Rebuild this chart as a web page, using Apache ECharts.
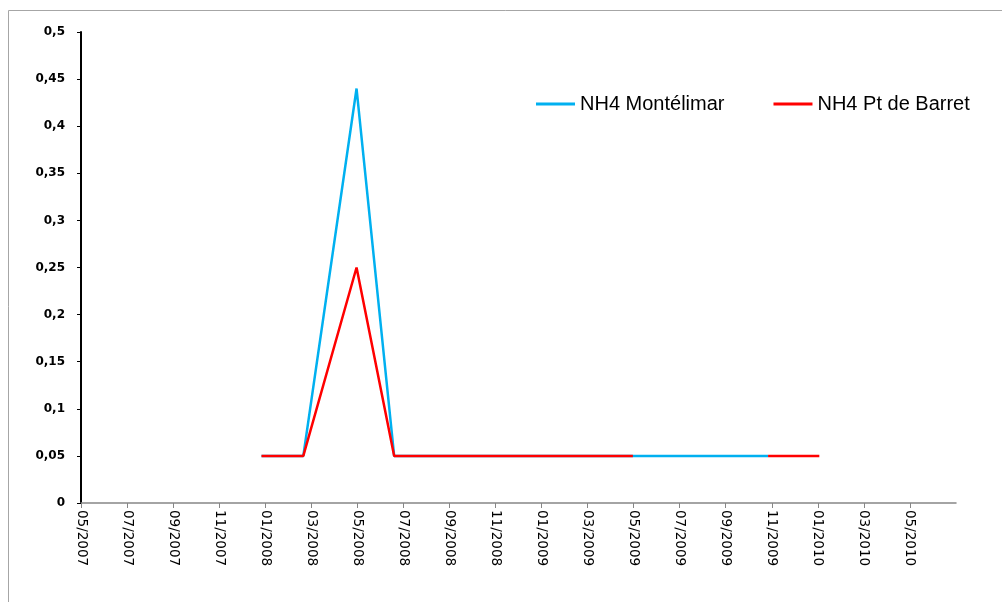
<!DOCTYPE html>
<html>
<head>
<meta charset="utf-8">
<script src="https://cdn.jsdelivr.net/npm/echarts@6/dist/echarts.min.js"></script>
<style>
    html, body {margin: 0; padding: 0; background: #fff;}
    #chart {width: 1002px; height: 602px;}
</style>
</head>
<body>
<div id="chart"></div>
<script>
// series names
const seriesNames = ['NH4 Montélimar', 'NH4 Pt de Barret'];

// NH4 Montélimar
const blueDates = ['2007-12-27', '2008-02-20', '2008-04-30', '2008-06-19', '2009-10-27'];
const blueValues = [0.05, 0.05, 0.44, 0.05, 0.05];

// NH4 Pt de Barret, '-' = no measure
const redDates = ['2007-12-27', '2008-02-20', '2008-04-30', '2008-06-19', '2009-04-30', '2009-07-15', '2009-10-27', '2010-01-03'];
const redValues = [0.05, 0.05, 0.25, 0.05, 0.05, '-', 0.05, 0.05];

// axis: month count starting 05/2007, tick every 2 months
const axisStart = {year: 2007, month: 5};
const xMin = 0;
const xMax = 38;
const xStep = 2;
const yMin = 0;
const yMax = 0.5;
const yStep = 0.05;

// date string -> months since axisStart
const toMonthIndex = s => {
    const [y, m, d] = s.split('-').map(Number);
    const daysInMonth = new Date(y, m, 0).getDate();
    return (y - axisStart.year) * 12 + (m - axisStart.month) + (d - 1) / daysInMonth;
};

// month index -> 'MM/YYYY'
const monthLabel = v => {
    const idx = axisStart.month - 1 + Math.round(v);
    const month = idx % 12 + 1;
    const year = axisStart.year + Math.floor(idx / 12);
    return (month < 10 ? '0' : '') + month + '/' + year;
};

const toPairs = (dates, values) => dates.map((d, i) => [toMonthIndex(d), values[i]]);

const chart = echarts.init(document.getElementById('chart'));
const option = {
    animation: false,
    backgroundColor: '#fff',
    graphic: [{
        type: 'rect',
        shape: {x: 8.5, y: 10.5, width: 1010, height: 610},
        style: {fill: 'none', stroke: '#a6a6a6', lineWidth: 1},
        silent: true,
    }],
    grid: {left: 81, right: 46, top: 32, bottom: 99},
    legend: {
        left: 536,
        top: 94,
        padding: 0,
        icon: 'rect',
        itemWidth: 39,
        itemHeight: 3,
        itemGap: 49,
        textStyle: {fontFamily: 'Liberation Sans', fontSize: 20, color: '#000'},
        data: seriesNames,
    },
    xAxis: {
        type: 'value',
        min: xMin,
        max: xMax,
        interval: xStep,
        splitLine: {show: false},
        axisLine: {lineStyle: {color: '#868686', width: 1.5}},
        axisTick: {length: 5, lineStyle: {color: '#868686', width: 1}},
        axisLabel: {
            rotate: -90,
            margin: 7,
            showMaxLabel: false,
            fontFamily: 'DejaVu Sans',
            fontSize: 13.5,
            color: '#000',
            formatter: monthLabel,
        },
    },
    yAxis: {
        type: 'value',
        min: yMin,
        max: yMax,
        interval: yStep,
        splitLine: {show: false},
        axisLine: {show: true, lineStyle: {color: '#000', width: 2}},
        axisTick: {show: true, length: 4, lineStyle: {color: '#000', width: 1}},
        axisLabel: {
            margin: 16,
            fontFamily: 'DejaVu Sans',
            fontWeight: 'bold',
            fontSize: 12,
            color: '#000',
            formatter: v => String(Math.round(v * 100) / 100).replace('.', ','),
        },
    },
    series: [
        {
            name: seriesNames[0],
            type: 'line',
            data: toPairs(blueDates, blueValues),
            showSymbol: false,
            symbol: 'none',
            color: '#00B0F0',
            lineStyle: {color: '#00B0F0', width: 2.5},
        },
        {
            name: seriesNames[1],
            type: 'line',
            data: toPairs(redDates, redValues),
            showSymbol: false,
            symbol: 'none',
            connectNulls: false,
            color: '#FF0000',
            lineStyle: {color: '#FF0000', width: 2.5},
        },
    ],
};
chart.setOption(option);
</script>
</body>
</html>
